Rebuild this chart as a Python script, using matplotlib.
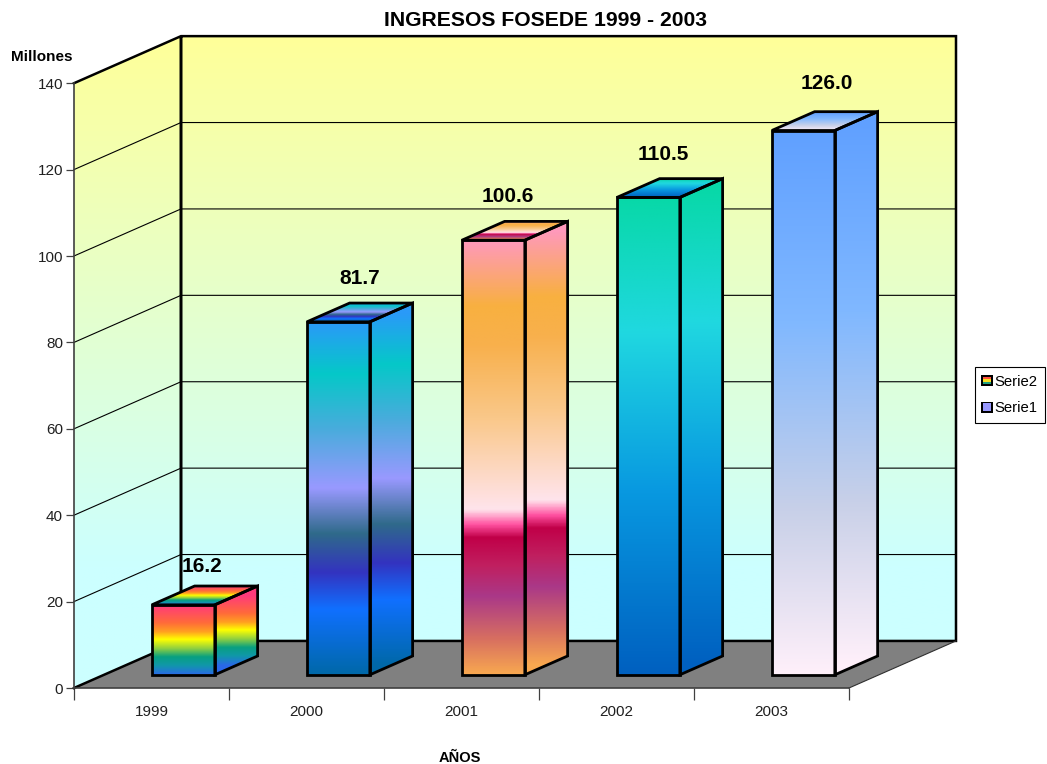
import matplotlib
matplotlib.use('Agg')
import matplotlib.pyplot as plt
import numpy as np
from matplotlib.colors import LinearSegmentedColormap
from matplotlib.legend_handler import HandlerBase
from matplotlib.patches import Patch, Polygon, Rectangle

plt.rcParams['font.family'] = ['Liberation Sans', 'DejaVu Sans']

years = ['1999', '2000', '2001', '2002', '2003']
ingresos = [16.2, 81.7, 100.6, 110.5, 126.0]
y_ticks = [0, 20, 40, 60, 80, 100, 120, 140]
serie_names = ['Serie2', 'Serie1']

# gradient of each bar, top to bottom
bar_grads = [
    [(0, '#FF3A7C'), (0.25, '#FF6A3A'), (0.38, '#FFA020'), (0.49, '#FFFF00'),
     (0.62, '#90D040'), (0.74, '#08A080'), (0.86, '#1098A8'), (1, '#2A68E8')],
    [(0, '#2A9AF8'), (0.145, '#05C8C8'), (0.3, '#48ACDC'), (0.47, '#9999FF'),
     (0.6, '#2F6A8A'), (0.71, '#3333C0'), (0.815, '#1070FF'), (1, '#0068A8')],
    [(0, '#FF99BB'), (0.15, '#F8B040'), (0.24, '#F8B04C'), (0.41, '#FAC88A'),
     (0.62, '#FFE4EC'), (0.655, '#FF50A0'), (0.685, '#C00048'), (0.75, '#C02060'),
     (0.82, '#AA3888'), (0.92, '#D87060'), (1, '#F8A850')],
    [(0, '#08D8A8'), (0.28, '#20D8E0'), (0.62, '#0898E0'), (1, '#0060C0')],
    [(0, '#60A0FF'), (0.35, '#80B8FF'), (0.7, '#C8D0E8'), (1, '#FFF0FA')],
]
wall_grad = [(0, '#FFFF99'), (1, '#CCFFFF')]

# depth of the box, in axis units
DX = 107 / 155
DY = 47 / (604 / 140)
BAR_W = 63 / 155
D0, D1 = 0.28, 0.68

label_dx = [-0.02, 0, -0.045, -0.04, 0.015]
label_dy = [4.5, 5.6, 5.8, 5.6, 6.6]

W, H = 1047, 764
fig = plt.figure(figsize=(W / 100, H / 100), dpi=100)
ax = fig.add_axes([74 / W, (H - 688) / H, 775 / W, 604.8 / H])
ax.patch.set_visible(False)

z = [2]


def next_z():
    z[0] += 1
    return z[0]


def grad_face(pts, colors, y_top, y_bot):
    # fill a polygon with a vertical gradient running y_top -> y_bot
    pts = np.array(pts)
    cmap = LinearSegmentedColormap.from_list('g', colors, N=512)
    xa, xb = pts[:, 0].min(), pts[:, 0].max()
    ya, yb = pts[:, 1].min(), pts[:, 1].max()
    t = np.clip((y_top - np.linspace(yb, ya, 400)) / (y_top - y_bot), 0, 1)
    im = ax.imshow(t[:, None], cmap=cmap, vmin=0, vmax=1, extent=[xa, xb, ya, yb],
                   aspect='auto', origin='upper', zorder=next_z(), interpolation='bilinear')
    im.set_clip_box(fig.bbox)
    im.set_clip_path(Polygon(pts, closed=True, transform=ax.transData))


def outline(pts, lw=2.0):
    ax.add_patch(Polygon(pts, closed=True, fill=False, edgecolor='black', lw=lw,
                         joinstyle='miter', clip_on=False, zorder=next_z()))


# walls and floor
top = y_ticks[-1]
back_wall = [(DX, DY), (5 + DX, DY), (5 + DX, top + DY), (DX, top + DY)]
left_wall = [(0, 0), (DX, DY), (DX, top + DY), (0, top)]
floor = [(0, 0), (5, 0), (5 + DX, DY), (DX, DY)]
grad_face(back_wall, wall_grad, top + DY, 28)
grad_face(left_wall, wall_grad, top + DY, 28)
ax.add_patch(Polygon(floor, closed=True, facecolor='#808080', edgecolor='none',
                     clip_on=False, zorder=next_z()))
for v in y_ticks[1:-1]:
    ax.plot([0, DX, 5 + DX], [v, v + DY, v + DY], color='black', lw=0.8,
            clip_on=False, zorder=next_z())
zw = next_z()
ax.plot([0, DX, 5 + DX, 5 + DX, DX, DX, DX], [top, top + DY, top + DY, DY, DY, top + DY, DY],
        color='black', lw=1.8, clip_on=False, zorder=zw, solid_joinstyle='miter')
ax.plot([0, DX], [0, DY], color='black', lw=1.8, clip_on=False, zorder=zw)
ax.plot([5, 5 + DX], [0, DY], color='#303030', lw=0.8, clip_on=False, zorder=zw)
ax.plot([0, 0], [0, top], color='#404040', lw=1.2, clip_on=False, zorder=zw)

# bars, back of the drawing first
for i, val in enumerate(ingresos):
    x0 = i + 0.5 - BAR_W / 2 + D0 * DX + 0.012
    x1 = x0 + BAR_W
    ox = (D1 - D0) * DX
    oy = (D1 - D0) * DY
    y0 = D0 * DY
    y1 = y0 + val
    grads = bar_grads[i]
    front = [(x0, y0), (x1, y0), (x1, y1), (x0, y1)]
    side = [(x1, y0), (x1 + ox, y0 + oy), (x1 + ox, y1 + oy), (x1, y1)]
    roof = [(x0, y1), (x1, y1), (x1 + ox, y1 + oy), (x0 + ox, y1 + oy)]
    grad_face(front, grads, y1, y0)
    grad_face(side, grads, y1 + oy / 2, y0 + oy / 2)
    grad_face(roof, grads, y1 + oy, y1)
    outline(front)
    outline(side)
    outline(roof)
    ax.text(x0 + BAR_W / 2 + ox / 2 + label_dx[i], y1 + oy + label_dy[i], '%.1f' % val,
            ha='center', va='center', fontsize=15, fontweight='bold', color='black',
            clip_on=False, zorder=next_z())

ax.set_xlim(0, 5)
ax.set_ylim(0, top)
for s in ['top', 'right', 'left']:
    ax.spines[s].set_visible(False)
ax.spines['bottom'].set_color('#404040')
ax.spines['bottom'].set_linewidth(1.2)
ax.spines['bottom'].set_zorder(z[0] + 1)
ax.set_yticks(y_ticks)
ax.tick_params(axis='y', length=6, width=0.9, color='#404040', labelsize=11, pad=2, labelcolor='#202020')
ax.set_xticks(range(6))
ax.set_xticklabels([])
ax.tick_params(axis='x', which='major', length=8.5, width=0.9, color='#404040')
ax.set_xticks(np.arange(5) + 0.5, minor=True)
ax.set_xticklabels(years, minor=True, fontsize=11, color='#202020')
ax.tick_params(axis='x', which='minor', length=0, pad=12)

fig.text(546 / W, 1 - 20 / H, 'INGRESOS FOSEDE 1999 - 2003', ha='center', va='center',
         fontsize=15.2, fontweight='bold')
fig.text(11 / W, 1 - 57 / H, 'Millones', ha='left', va='center', fontsize=11, fontweight='bold')
fig.text(460 / W, 1 - 758 / H, 'AÑOS', ha='center', va='center', fontsize=10.5, fontweight='bold')


class Swatch(HandlerBase):
    def __init__(self, bands):
        super().__init__()
        self.bands = bands

    def create_artists(self, legend, orig, xd, yd, w, h, fontsize, trans):
        # swatch sits 2px left of where the legend would put it
        x = -xd - 1.5
        arts = [Rectangle((x, -yd), w, h, facecolor='black', edgecolor='none', transform=trans)]
        n = len(self.bands)
        for k, c in enumerate(self.bands):
            bh = 0.66 * h / n
            arts.append(Rectangle((x + 0.17 * w, -yd + 0.17 * h + bh * (n - 1 - k)), 0.66 * w, bh,
                                  facecolor=c, edgecolor='none', transform=trans))
        return arts


h2 = Patch(facecolor='white')
h1 = Patch(facecolor='#9999FF')
leg = fig.legend([h2, h1], serie_names, loc='upper left',
                 bbox_to_anchor=(975 / W, 1 - 367 / H), borderaxespad=0, fontsize=10.7,
                 fancybox=False, framealpha=1, edgecolor='black', handlelength=0.8,
                 handleheight=0.8, handletextpad=0.0, labelspacing=0.85, borderpad=0.52,
                 handler_map={h2: Swatch(['#FF5040', '#F8E020', '#20A080']), h1: Swatch(['#9999FF'])})
leg.get_frame().set_linewidth(0.8)

fig.savefig('out.png', dpi=100)
